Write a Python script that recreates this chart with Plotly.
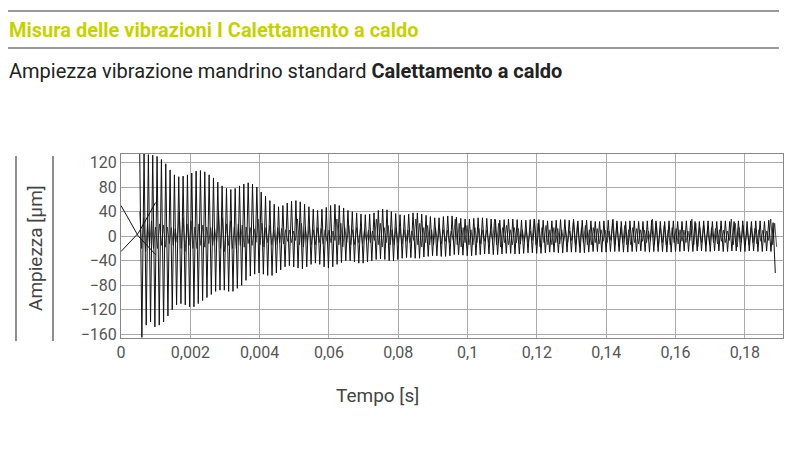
import plotly.graph_objects as go

tick_vals = [0, 1, 2, 3, 4, 5, 6, 7, 8, 9]
tick_text = ["0", "0,002", "0,004", "0,06", "0,08", "0,1", "0,12", "0,14", "0,16", "0,18"]
y_ticks = [120, 80, 40, 0, -40, -80, -120, -160]

start_a_x = [0, 0.25, 0.5]
start_a_y = [50, 0, -30]
start_b_y = [-25, 5, 55]

upper = [135,135,133,132,130,125,118,108,100,97, 98,100,103,106,107,105,100,95,88,82,
         78,76,78,82,85,87,85,80,72,65, 58,52,48,50,54,57,58,56,52,48,
         44,42,44,47,50,52,50,46,42,40, 38,36,35,36,38,42,44,43,40,37,
         35,34,36,38,38,36,34,32,30,30, 32,33,33,31,29,28,28,29,30,30,
         29,28,27,26,27,28,28,27,26,26, 27,28,27,26,25,25,26,27,27,26,
         25,25,26,26,25,24,24,25,26,26, 25,24,24,25,25,24,24,25,26,25,
         24,24,25,25,24,24,25,25,24,24, 25,25,24,24,25,25,24,24,25,25,
         24,24,25,25,24,26,22]
lower = [-165,-145,-140,-148,-145,-140,-130,-120,-112,-110, -112,-115,-115,-110,-105,-100,-95,-90,-88,-88,
         -90,-90,-85,-80,-72,-65,-62,-60,-62,-64, -64,-60,-55,-50,-48,-50,-52,-53,-50,-46,
         -44,-46,-50,-52,-50,-46,-43,-40,-40,-42, -44,-44,-42,-40,-38,-37,-38,-40,-40,-38,
         -36,-35,-35,-36,-36,-34,-33,-32,-32,-33, -33,-32,-30,-30,-31,-32,-32,-31,-30,-29,
         -29,-30,-30,-29,-28,-28,-29,-29,-28,-27, -27,-28,-28,-27,-26,-26,-27,-27,-26,-26,
         -26,-27,-27,-26,-25,-25,-26,-26,-25,-25, -25,-26,-26,-25,-25,-24,-25,-26,-25,-25,
         -25,-26,-26,-25,-25,-24,-25,-25,-24,-24, -25,-25,-24,-24,-25,-25,-24,-24,-25,-25,
         -24,-24,-25,-25,-24,-25,-60]
inner = [40,-20,30,-25,20,-15,25,-20,15,-20,20,-15,18,-18,15,-12,14,-15,12,-10]

x0 = 0.27
x1 = 9.47
n = len(upper)
p = (x1 - x0) / n
xs, ys = [], []
for i in range(n):
    xs += [x0 + i * p, x0 + (i + 0.5) * p]
    ys += [upper[i], lower[i]]

ix, iy = [], []
m = len(inner)
for k in range(4 * n):
    ix.append(x0 + k * p / 2.2)
    iy.append(inner[k % m] * (1.0 if k < 60 else 0.7))
ix = [v for v in ix if v <= x1]
iy = iy[:len(ix)]

fig = go.Figure()
fig.add_trace(go.Scatter(x=ix, y=iy, mode="lines", line=dict(color="#222", width=0.8), hoverinfo="skip"))
fig.add_trace(go.Scatter(x=start_a_x, y=start_a_y, mode="lines", line=dict(color="#111", width=1)))
fig.add_trace(go.Scatter(x=start_a_x, y=start_b_y, mode="lines", line=dict(color="#111", width=1)))
fig.add_trace(go.Scatter(x=xs, y=ys, mode="lines", line=dict(color="#111", width=1)))

L, R, T, B = 113, 25, 146, 120
fig.update_layout(
    width=800, height=450, showlegend=False,
    paper_bgcolor="white", plot_bgcolor="white",
    margin=dict(l=L, r=R, t=T, b=B),
    font=dict(family="Roboto, sans-serif", color="#444"),
    xaxis=dict(range=[0, 9.55], tickvals=tick_vals, ticktext=tick_text, showgrid=True,
               gridcolor="#aaa", gridwidth=1, tickfont=dict(size=16, color="#555"),
               zeroline=False, showline=True, linecolor="#888", mirror=True, ticks=""),
    yaxis=dict(range=[-166, 134], tickvals=y_ticks, showgrid=True, gridcolor="#aaa",
               tickfont=dict(size=16, color="#555"), zeroline=False,
               showline=True, linecolor="#888", mirror=True, ticks=""),
)

W, H = 800, 450
pw, ph = W - L - R, H - T - B
OFF = 7
def px(x): return (x - OFF - L) / pw
def py(y): return (H - B - (y - OFF)) / ph
for yy in (10, 47):
    fig.add_shape(type="line", xref="paper", yref="paper", x0=px(5), x1=px(778), y0=py(yy), y1=py(yy),
                  line=dict(color="#999", width=2))
for xx in (15, 52):
    fig.add_shape(type="line", xref="paper", yref="paper", x0=px(xx), x1=px(xx), y0=py(155), y1=py(340),
                  line=dict(color="#444", width=1.2))
fig.add_annotation(text="<b>Misura delle vibrazioni I Calettamento a caldo</b>", xref="paper", yref="paper",
                   x=px(6), y=py(29), xanchor="left", yanchor="middle", showarrow=False,
                   font=dict(size=20, color="#c5d200"))
fig.add_annotation(text="Ampiezza vibrazione mandrino standard <b>Calettamento a caldo</b>", xref="paper", yref="paper",
                   x=px(6), y=py(70), xanchor="left", yanchor="middle", showarrow=False,
                   font=dict(size=20, color="#222"))
fig.add_annotation(text="Tempo [s]", xref="paper", yref="paper", x=px(376), y=py(394),
                   showarrow=False, font=dict(size=19, color="#444"), xanchor="center", yanchor="middle")
fig.add_annotation(text="Ampiezza [µm]", xref="paper", yref="paper", x=px(34), y=py(247), textangle=-90,
                   showarrow=False, font=dict(size=19, color="#444"), xanchor="center", yanchor="middle")

fig.write_html("out.html")
